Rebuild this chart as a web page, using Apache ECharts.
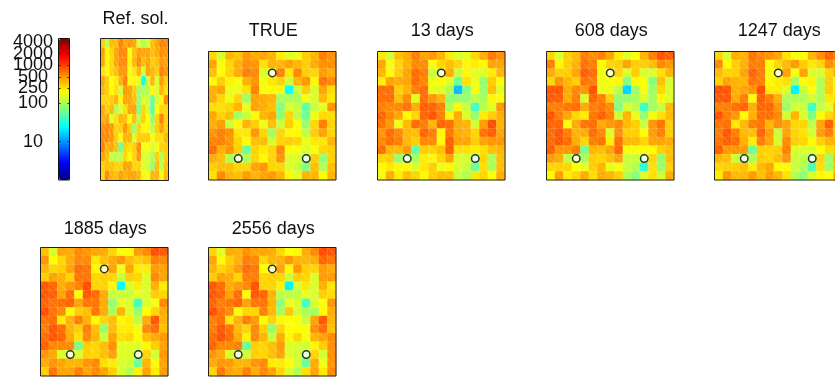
<!DOCTYPE html>
<html><head><meta charset="utf-8">
<style>html,body{margin:0;padding:0;background:#fff}#c{width:835px;height:377px}</style>
<script src="https://cdn.jsdelivr.net/npm/echarts@6/dist/echarts.min.js"></script>
</head><body><div id="c"></div>
<script>
const refSol=[
[310,118,370,350,610,445,500,445,150,105,140,350,445,610,555],
[475,218,292,445,585,555,192,350,475,445,445,350,415,555,500],
[445,218,292,445,555,555,218,385,555,350,445,310,350,500,445],
[265,218,292,350,500,500,192,248,385,140,445,385,310,610,500],
[445,310,202,238,398,610,202,218,172,26,140,385,150,475,310],
[385,310,218,265,140,475,445,310,94,105,105,218,150,385,265],
[292,292,310,385,218,445,445,350,84,150,140,60,140,218,555],
[445,310,385,105,150,265,445,445,72,292,140,54,202,292,292],
[415,445,150,265,385,350,192,350,118,310,202,84,292,610,292],
[530,555,500,292,310,500,310,94,292,218,218,118,310,475,310],
[555,555,500,310,218,385,385,150,310,310,310,192,265,265,385],
[610,385,445,350,60,310,265,310,555,192,192,150,192,310,310],
[445,350,118,118,118,292,218,292,500,150,150,105,310,105,310],
[310,350,350,292,292,445,445,292,292,150,140,84,350,118,350],
[292,555,385,350,475,385,445,445,385,218,172,385,385,218,385]];
const trueField=[
[292,140,378,335,500,415,445,385,238,160,182,310,385,610,530],
[445,192,292,398,530,500,265,385,378,445,378,310,415,530,530],
[350,210,292,415,610,555,150,182,585,248,555,310,292,475,415],
[210,310,228,192,398,500,192,248,292,130,385,500,218,660,555],
[398,435,172,172,265,585,192,210,210,26,130,310,150,435,275],
[415,292,172,292,94,445,415,385,100,100,100,192,150,370,248],
[275,265,292,385,172,445,415,350,72,150,130,54,130,172,500],
[435,292,350,94,130,210,385,445,78,292,118,60,172,275,275],
[398,475,130,218,385,310,172,350,130,310,192,84,292,610,292],
[500,610,530,248,248,500,292,94,292,218,218,118,310,445,292],
[585,610,500,292,210,350,350,140,292,310,292,172,248,248,385],
[705,398,500,310,60,292,238,292,555,192,192,150,192,292,310],
[415,350,105,100,105,292,218,292,500,150,150,94,310,84,310],
[310,350,350,292,292,445,500,292,292,150,130,72,350,105,350],
[265,555,385,350,475,385,445,475,385,218,160,385,385,210,385]];
const day13=[
[248,140,350,415,610,445,500,385,238,150,160,292,415,635,530],
[445,192,292,398,555,530,210,292,350,292,218,238,218,445,445],
[385,218,310,445,705,610,130,172,415,130,218,160,150,238,385],
[228,445,415,445,705,555,182,210,160,60,265,172,84,310,210],
[705,705,310,385,610,705,172,150,105,14,72,192,88,350,160],
[705,705,350,555,160,705,500,385,84,84,84,118,94,218,210],
[610,555,555,660,415,795,750,610,105,218,130,42,118,160,500],
[750,555,445,218,292,750,880,610,218,415,150,84,238,310,415],
[660,500,182,370,705,610,385,750,705,415,385,140,475,920,385],
[500,705,555,370,350,750,610,218,660,415,385,292,660,795,445],
[555,705,610,370,310,555,555,218,795,445,445,310,445,500,500],
[705,385,370,475,54,310,292,350,795,265,265,238,265,350,385],
[292,310,84,105,94,238,218,292,445,150,150,84,292,105,350],
[218,248,218,218,150,248,310,182,218,150,130,60,265,105,350],
[182,415,238,350,292,218,310,350,350,130,105,248,292,202,415]];
const day608=[
[292,150,310,370,610,530,610,445,238,160,202,385,610,880,795],
[610,218,310,385,660,610,210,292,310,445,310,310,350,555,500],
[415,310,310,445,795,705,182,172,292,150,310,150,150,265,385],
[292,500,385,310,660,610,182,192,218,72,218,202,72,350,140],
[840,840,415,555,500,880,172,172,118,17,94,192,88,292,150],
[840,795,415,610,150,750,610,310,84,84,100,150,94,210,150],
[610,610,660,705,415,610,660,555,72,150,118,42,94,130,370],
[880,610,445,292,238,660,795,610,140,385,172,84,182,265,370],
[750,750,202,415,660,705,415,500,555,370,310,130,500,660,310],
[705,840,610,385,415,705,555,150,530,310,310,210,475,610,310],
[705,840,705,415,292,610,660,238,705,370,370,292,445,445,415],
[795,500,500,610,66,385,350,445,750,192,192,210,210,310,350],
[475,415,118,118,100,310,292,350,445,130,130,100,292,84,350],
[292,292,292,202,172,310,385,172,192,130,105,36,265,88,310],
[210,475,238,292,415,265,415,385,310,105,72,150,265,140,415]];
const day1247=[
[292,150,415,385,660,555,530,445,265,192,210,385,530,750,660],
[555,210,310,398,610,610,202,292,370,475,310,248,292,530,445],
[370,292,310,445,750,610,192,218,445,192,445,150,150,292,415],
[310,445,398,385,660,610,218,238,265,94,210,228,105,310,160],
[920,840,398,445,500,920,238,238,160,22,130,202,105,310,218],
[840,840,415,610,210,795,610,398,105,105,105,140,105,248,265],
[610,610,705,750,415,750,750,500,88,150,130,42,130,160,445],
[880,610,500,210,398,705,705,555,140,385,150,72,192,292,385],
[660,705,248,370,610,660,385,530,445,292,292,118,445,795,350],
[610,840,610,370,350,750,475,130,445,292,265,140,475,610,350],
[660,795,705,398,238,610,445,140,555,310,292,210,310,385,415],
[795,500,500,475,60,310,292,310,610,150,150,150,192,275,310],
[385,350,130,94,105,310,292,350,500,130,118,94,292,88,385],
[292,310,310,350,238,370,445,218,218,130,105,48,265,94,350],
[238,500,370,370,475,350,475,385,265,105,78,150,218,202,445]];
const day1885=[
[350,150,445,415,555,500,445,415,292,192,210,475,555,920,840],
[500,202,292,415,555,555,248,350,415,500,370,310,350,610,555],
[385,292,310,445,705,660,218,218,445,182,445,238,238,475,445],
[310,445,398,292,660,660,292,310,292,130,310,292,150,555,445],
[840,750,415,500,585,920,292,292,218,24,150,238,150,398,238],
[840,795,445,705,210,840,705,415,130,130,130,172,150,310,292],
[750,660,705,750,445,660,660,415,84,172,150,42,160,192,555],
[920,660,555,192,310,350,660,415,105,385,150,84,202,292,415],
[660,705,238,398,610,385,218,292,350,218,238,118,415,840,385],
[610,840,705,385,310,610,350,88,350,238,238,192,555,705,350],
[705,840,750,415,265,555,385,130,445,265,292,210,350,415,500],
[795,555,555,555,66,310,292,350,530,160,160,160,218,310,445],
[500,415,150,140,150,310,292,350,445,160,150,105,292,140,500],
[415,500,445,385,385,500,555,265,238,150,140,60,385,218,445],
[310,660,445,445,610,445,555,445,310,150,105,228,445,238,475]];
const day2556=[
[292,160,415,398,530,445,445,415,292,202,218,415,555,920,840],
[445,210,310,398,610,555,292,385,398,500,385,385,415,750,660],
[385,292,350,475,705,635,202,202,445,218,500,310,292,475,415],
[310,445,415,292,610,610,292,310,292,130,310,292,150,475,475],
[840,705,415,475,555,880,292,292,228,22,150,248,150,398,248],
[840,750,445,705,210,840,750,385,118,118,118,172,150,310,275],
[750,610,660,750,445,660,660,385,78,172,150,42,150,202,500],
[920,660,555,192,292,292,610,370,94,325,140,100,94,210,415],
[610,705,248,398,610,475,202,292,218,202,192,130,445,840,385],
[610,840,660,370,292,555,310,84,292,210,210,192,530,705,350],
[705,880,705,415,228,555,385,130,415,218,292,192,385,445,555],
[750,555,555,610,60,310,292,350,475,150,150,140,218,310,530],
[500,415,150,118,140,310,292,350,445,150,140,94,292,140,530],
[415,500,475,385,385,500,555,238,238,210,140,60,415,182,500],
[292,660,445,415,610,415,555,445,292,150,105,265,445,248,555]];
const wells=[[7,2],[3,12],[11,12]];
const ticksA=[10,250,1000,4000];
const ticksB=[100,500,2000];
const jet=['#000080','#0000ff','#0080ff','#00ffff','#80ff80','#ffff00','#ff8000','#ff0000','#800000'];
const idx=[...Array(15).keys()];
const FONT='"Liberation Sans", Arial, sans-serif';
const panels=[
 {t:'Ref. sol.',d:refSol,x:100.5,y:38.5,w:68,h:142,ty:10,wells:false},
 {t:'TRUE',d:trueField,x:208.5,y:51.5,w:127.5,h:128.5,ty:22,wells:true},
 {t:'13 days',d:day13,x:377.5,y:51.5,w:127.5,h:128.5,ty:22,wells:true},
 {t:'608 days',d:day608,x:546.5,y:51.5,w:127.5,h:128.5,ty:22,wells:true},
 {t:'1247 days',d:day1247,x:714.5,y:51.5,w:127.5,h:128.5,ty:22,wells:true},
 {t:'1885 days',d:day1885,x:40.5,y:247.5,w:127.5,h:128.5,ty:220,wells:true},
 {t:'2556 days',d:day2556,x:208.5,y:247.5,w:127.5,h:128.5,ty:220,wells:true}
];
const grid=[],xAxis=[],yAxis=[],series=[],title=[],hm=[];
panels.forEach((p,i)=>{
 grid.push({left:p.x,top:p.y,width:p.w,height:p.h,outerBoundsMode:'none',show:true,z:20,borderColor:'#222',borderWidth:1,backgroundColor:'transparent'});
 xAxis.push({type:'category',gridIndex:i,data:idx,show:false});
 yAxis.push({type:'category',gridIndex:i,data:idx,inverse:true,show:false});
 title.push({text:p.t,left:p.x+p.w/2+1,top:p.ty,padding:0,textAlign:'center',textStyle:{fontFamily:FONT,fontSize:18,fontWeight:'normal',color:'#111'}});
 const cells=[];
 p.d.forEach((row,r)=>row.forEach((v,c)=>cells.push([c,r,Math.log10(v)])));
 hm.push(series.length);
 series.push({type:'heatmap',xAxisIndex:i,yAxisIndex:i,data:cells,progressive:0,silent:true,
  itemStyle:{borderColor:'rgba(255,255,255,0.2)',borderWidth:0.5}});
 series.push({type:'custom',xAxisIndex:i,yAxisIndex:i,data:cells,silent:true,z:3,progressive:0,
  renderItem:(params,api)=>{
   const ctr=api.coord([api.value(0),api.value(1)]);const s=api.size([1,1]);
   return {type:'line',shape:{x1:ctr[0]-s[0]/2,y1:ctr[1]-s[1]/2,x2:ctr[0]+s[0]/2,y2:ctr[1]+s[1]/2},
    style:{stroke:'rgba(255,255,255,0.28)',lineWidth:0.7}};
  }});
 if(p.wells) series.push({type:'scatter',xAxisIndex:i,yAxisIndex:i,data:wells,symbol:'circle',symbolSize:7.5,silent:true,z:5,
  itemStyle:{color:'#fff',borderColor:'#000',borderWidth:1.5}});
});
const n=panels.length;
grid.push({left:58.5,top:38.5,width:11,height:141.5,outerBoundsMode:'none',show:true,z:20,borderColor:'#111',borderWidth:1,backgroundColor:'transparent'});
xAxis.push({type:'category',gridIndex:n,data:[0],show:false});
const cbAxis=(vals,pos)=>({type:'log',gridIndex:n,position:pos,min:1,max:5000,logBase:10,z:21,
 axisLine:{show:false},splitLine:{show:false},minorTick:{show:false},
 axisTick:{show:true,inside:true,length:2,customValues:vals,lineStyle:{color:'#222'}},
 axisLabel:pos==='left'?{customValues:vals,align:'center',margin:25.5,padding:[7,0,0,0],fontFamily:FONT,fontSize:18,color:'#111',formatter:v=>String(v),hideOverlap:false,showMinLabel:true,showMaxLabel:true}:{show:false}});
yAxis.push(cbAxis(ticksA,'left'),cbAxis(ticksB,'left'),cbAxis(ticksA.concat(ticksB).sort((a,b)=>a-b),'right'));
[n,n+1,n+2].forEach(k=>series.push({type:'line',xAxisIndex:n,yAxisIndex:k,data:[],silent:true}));
const option={animation:false,backgroundColor:'#fff',title,grid,xAxis,yAxis,series,tooltip:{show:false},
 visualMap:[{type:'continuous',show:true,seriesIndex:hm,min:0,max:Math.log10(5000),calculable:false,realtime:false,
  left:59,top:38.5,itemWidth:10.5,itemHeight:141.5,showLabel:false,text:null,padding:0,z:1,hoverLink:false,
  inRange:{color:jet}}]};
echarts.init(document.getElementById('c'),null,{renderer:'canvas'}).setOption(option);
</script></body></html>
